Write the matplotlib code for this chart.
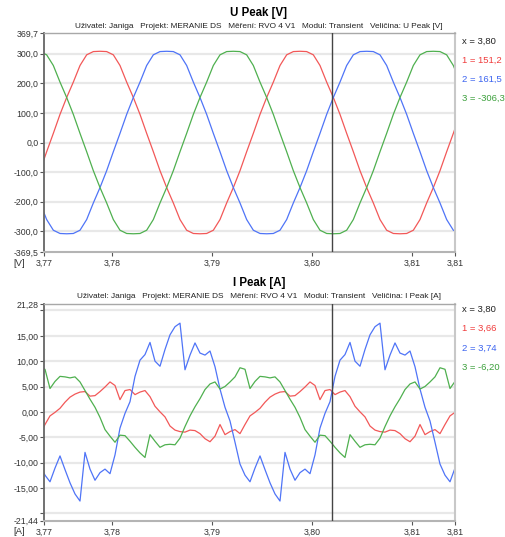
import numpy as np
import matplotlib
matplotlib.use("Agg")
import matplotlib.pyplot as plt

plt.rcParams['font.family'] = ['Liberation Sans', 'DejaVu Sans']

# --- DATA ---
# U Peak [V], samples every 0.02/30 s starting at 3.7728 s
u_t0 = 3.7728
u_dt = 0.02 / 30
u_red = [-95, -31, 31, 95, 152, 204, 260, 296, 307, 308,
         307, 296, 260, 204, 152, 95, 31, -31, -95, -152,
         -204, -260, -296, -307, -308, -307, -296, -260, -204, -152,
         -95, -31, 31, 95, 152, 204, 260, 296, 307, 308,
         307, 296, 260, 204, 152, 95, 31, -31, -95, -152,
         -204, -260, -296, -307, -308, -307, -296, -260, -204, -152,
         -95, -31, 31, 95]
u_blue = [-204, -260, -296, -307, -308, -307, -296, -260, -204, -152,
          -95, -31, 31, 95, 152, 204, 260, 296, 307, 308,
          307, 296, 260, 204, 152, 95, 31, -31, -95, -152,
          -204, -260, -296, -307, -308, -307, -296, -260, -204, -152,
          -95, -31, 31, 95, 152, 204, 260, 296, 307, 308,
          307, 296, 260, 204, 152, 95, 31, -31, -95, -152,
          -204, -260, -296, -307]
u_green = [307, 296, 260, 204, 152, 95, 31, -31, -95, -152,
           -204, -260, -296, -307, -308, -307, -296, -260, -204, -152,
           -95, -31, 31, 95, 152, 204, 260, 296, 307, 308,
           307, 296, 260, 204, 152, 95, 31, -31, -95, -152,
           -204, -260, -296, -307, -308, -307, -296, -260, -204, -152,
           -95, -31, 31, 95, 152, 204, 260, 296, 307, 308,
           307, 296, 260, 204]

# I Peak [A], samples every 0.0005 s starting at 3.7728 s
i_t0 = 3.7728
i_dt = 0.0005
i_red = [-4.5, -2.5, -0.8, -0.1, 0.7, 1.9, 2.9, 3.5, 3.9, 4.0,
         3.1, 3.2, 4.0, 4.9, 5.9, 5.2, 2.4, 4.2, 4.4, 3.4,
         3.9, 4.2, 3.0, 1.1, 0.0, -1.0, -2.8, -3.6, -3.9, -4.0,
         -3.6, -3.7, -4.3, -5.3, -5.9, -4.8, -2.5, -4.5, -3.9, -3.5,
         -4.3, -2.5, -0.8, -0.1, 0.7, 1.9, 2.9, 3.5, 3.9, 4.0,
         3.1, 3.2, 4.0, 4.9, 5.9, 5.2, 2.4, 4.2, 4.4, 3.4,
         3.9, 4.2, 3.0, 1.1, 0.0, -1.0, -2.8, -3.6, -3.9, -4.0,
         -3.6, -3.7, -4.3, -5.3, -5.9, -4.8, -2.5, -4.5, -3.9, -3.5,
         -4.3, -2.5, -0.8, -0.1]
i_blue = [-10.5, -12.5, -13.8, -11.1, -8.7, -11.4, -14.0, -16.2, -17.6, -8.0,
          -11.3, -13.5, -12.0, -11.3, -12.2, -8.5, -3.2, -0.3, 2.0, 7.0,
          10.2, 11.3, 13.7, 10.0, 9.0, 12.3, 15.2, 16.8, 17.5, 8.3,
          11.2, 13.6, 11.6, 11.2, 12.0, 8.9, 4.5, 0.9, -1.8, -6.0,
          -10.3, -12.5, -13.8, -11.1, -8.7, -11.4, -14.0, -16.2, -17.6, -8.0,
          -11.3, -13.5, -12.0, -11.3, -12.2, -8.5, -3.2, -0.3, 2.0, 7.0,
          10.2, 11.3, 13.7, 10.0, 9.0, 12.3, 15.2, 16.8, 17.5, 8.3,
          11.2, 13.6, 11.6, 11.2, 12.0, 8.9, 4.5, 0.9, -1.8, -6.0,
          -10.3, -12.5, -13.8, -11.1]
i_green = [8.7, 8.4, 4.6, 6.0, 7.0, 6.9, 6.7, 6.9, 5.9, 4.2,
           2.5, 0.9, -1.1, -3.5, -4.8, -6.0, -4.6, -4.7, -5.8, -7.0,
           -8.1, -9.0, -4.5, -5.8, -7.0, -6.5, -6.4, -6.5, -5.2, -2.9,
           -0.8, 1.0, 2.6, 4.4, 5.5, 5.9, 4.5, 5.0, 5.9, 6.9,
           8.7, 8.4, 4.6, 6.0, 7.0, 6.9, 6.7, 6.9, 5.9, 4.2,
           2.5, 0.9, -1.1, -3.5, -4.8, -6.0, -4.6, -4.7, -5.8, -7.0,
           -8.1, -9.0, -4.5, -5.8, -7.0, -6.5, -6.4, -6.5, -5.2, -2.9,
           -0.8, 1.0, 2.6, 4.4, 5.5, 5.9, 4.5, 5.0, 5.9, 6.9,
           8.7, 8.4, 4.6, 6.0]

x_lim = (3.7732, 3.8143)
x_ticks = [3.7732, 3.78, 3.79, 3.80, 3.81, 3.8143]
x_labels = ['3,77', '3,78', '3,79', '3,80', '3,81', '3,81']
cursor_x = 3.802

u_lim = (-369.5, 369.7)
u_ticks = [-369.5, -300, -200, -100, 0, 100, 200, 300, 369.7]
u_labels = ['-369,5', '-300,0', '-200,0', '-100,0', '0,0', '100,0', '200,0', '300,0', '369,7']
u_grid = [-300, -200, -100, 0, 100, 200, 300]
u_legend = ['x = 3,80', '1 = 151,2', '2 = 161,5', '3 = -306,3']

i_lim = (-21.44, 21.28)
i_ticks = [-21.44, -15, -10, -5, 0, 5, 10, 15, 21.28]
i_labels = ['-21,44', '-15,00', '-10,00', '-5,00', '0,00', '5,00', '10,00', '15,00', '21,28']
i_minor = [-20, 20]
i_grid = [-20, -15, -10, -5, 0, 5, 10, 15, 20]
i_legend = ['x = 3,80', '1 = 3,66', '2 = 3,74', '3 = -6,20']

subtitle = ("Uživatel: Janiga   Projekt: MERANIE DS   Měření: RVO 4 V1   "
            "Modul: Transient   Veličina: {}")

RED, BLUE, GREEN = '#f25858', '#4f74f7', '#4fb04f'
LEG_COLORS = ['#222222', '#f03c3c', '#3c64f0', '#3ca03c']

W, H = 506, 537
fig = plt.figure(figsize=(W / 100, H / 100), dpi=100)
fig.patch.set_facecolor('white')


def style_axes(ax, ylim, yticks, ylabels, grid):
    ax.set_xlim(*x_lim)
    ax.set_ylim(*ylim)
    for g in grid:
        ax.axhline(g, color='#e8e8e8', lw=1.6, zorder=0)
    ax.set_xticks(x_ticks)
    ax.set_xticklabels(x_labels)
    ax.set_yticks(yticks)
    ax.set_yticklabels(ylabels)
    ax.tick_params(axis='both', labelsize=6.3, colors='#555555', labelcolor='#333333',
                   length=3, width=0.8)
    ax.tick_params(axis='y', pad=1)
    ax.tick_params(axis='x', pad=2)
    ax.spines['left'].set_color('#666666')
    ax.spines['left'].set_linewidth(1.3)
    ax.spines['bottom'].set_color('#b4b4b4')
    ax.spines['bottom'].set_linewidth(1.5)
    ax.spines['top'].set_color('#a8a8a8')
    ax.spines['top'].set_linewidth(1.0)
    ax.spines['right'].set_color('#c8c8c8')
    ax.spines['right'].set_linewidth(1.5)
    ax.axvline(cursor_x, color='#444444', lw=1.0, zorder=5)


# --- U Peak ---
ax1 = fig.add_axes([44 / W, 1 - 252 / H, 411 / W, 219 / H])
ut = u_t0 + np.arange(len(u_red)) * u_dt
ax1.plot(ut, u_red, color=RED, lw=0.9)
ax1.plot(ut, u_blue, color=BLUE, lw=0.9)
ax1.plot(ut, u_green, color=GREEN, lw=0.9)
style_axes(ax1, u_lim, u_ticks, u_labels, u_grid)

# --- I Peak ---
ax2 = fig.add_axes([44 / W, 1 - 520.5 / H, 411 / W, 216.5 / H])
it = i_t0 + np.arange(len(i_red)) * i_dt
ax2.plot(it, i_red, color=RED, lw=0.9)
ax2.plot(it, i_blue, color=BLUE, lw=0.9)
ax2.plot(it, i_green, color=GREEN, lw=0.9)
style_axes(ax2, i_lim, i_ticks, i_labels, i_grid)
ax2.set_yticks(i_minor, minor=True)
ax2.tick_params(axis='y', which='minor', length=3, width=0.8, colors='#555555')

# --- titles, units, legends ---
for title, unit, ttl_y, sub_y, unit_y, leg, leg_y in [
        ('U Peak [V]', '[V]', 13, 26.5, 263, u_legend, 41),
        ('I Peak [A]', '[A]', 283, 296.5, 532, i_legend, 309.5)]:
    fig.text(259 / W, 1 - ttl_y / H, title, ha='center', va='center',
             fontsize=8.3, fontweight='bold', color='black')
    fig.text(259 / W, 1 - sub_y / H, subtitle.format(title), ha='center', va='center',
             fontsize=5.95, color='#222222')
    fig.text(13 / W, 1 - unit_y / H, unit, ha='left', va='center',
             fontsize=6.8, color='#333333')
    for j, (s, c) in enumerate(zip(leg, LEG_COLORS)):
        fig.text(462 / W, 1 - (leg_y + 19.2 * j) / H, s, ha='left', va='center',
                 fontsize=6.8, color=c)

fig.savefig('out.png', dpi=100)
